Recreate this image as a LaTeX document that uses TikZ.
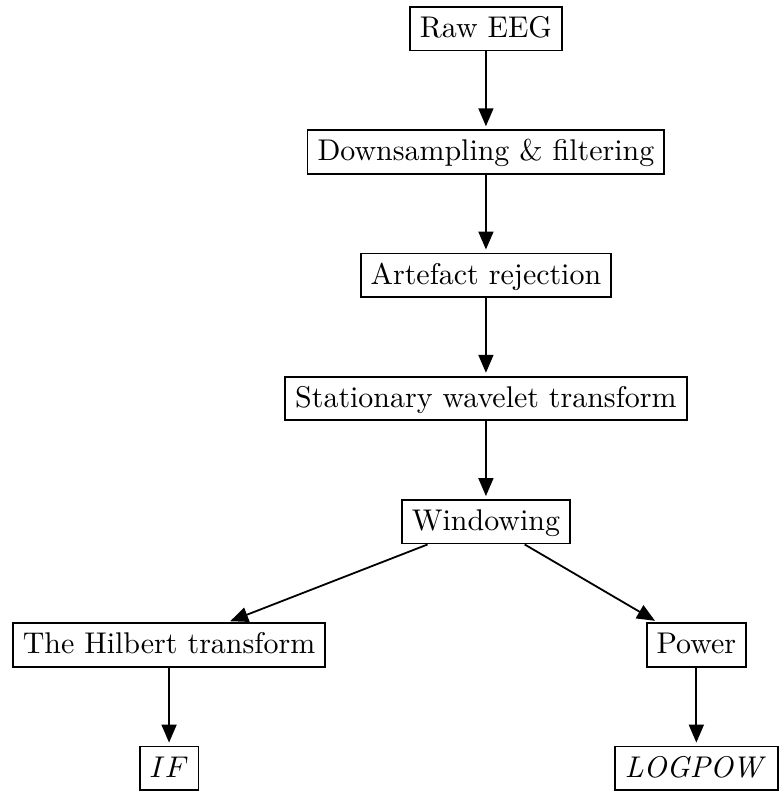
\documentclass[tikz,border=0pt]{standalone}
\usepackage{tikz}
\usetikzlibrary{positioning,arrows.meta}

\begin{document}
\begin{tikzpicture}[node distance=26pt, semithick, every node/.style={draw, text height=6.9pt, text depth=1pt}, >={Triangle[length=6pt,width=5pt]}]
  % Nodes
  \node (raw) {Raw EEG};
  \node[below=of raw] (filt) {Downsampling \& filtering};
  \node[below=of filt] (artef) {Artefact rejection};
  \node[below=of artef] (swt) {Stationary wavelet transform};
  \node[below=of swt] (win) {Windowing};
  \node[below left=26pt and 25pt of win] (hilb) {The Hilbert transform};
  \node[below right=26pt and 25pt of win] (power) {Power};
  \node[below=of hilb] (if) {$IF$};
  \node[below=of power] (logpow) {$\mathit{LOGPOW}$};
  % Arrows
  \draw[->, shorten >=1pt] (raw) -- (filt);
  \draw[->, shorten >=1pt] (filt) -- (artef);
  \draw[->, shorten >=1pt] (artef) -- (swt);
  \draw[->, shorten >=1pt] (swt) -- (win);
  \draw[->, shorten >=1pt] (win) -- (hilb);
  \draw[->, shorten >=1pt] (win) -- (power);
  \draw[->, shorten >=1pt] (hilb) -- (if);
  \draw[->, shorten >=1pt] (power) -- (logpow);
  % Margins
  \useasboundingbox ([xshift=-4pt, yshift=2pt] hilb.west |- raw.north) rectangle ([xshift=0.5pt] logpow.south east);
\end{tikzpicture}
\end{document}
